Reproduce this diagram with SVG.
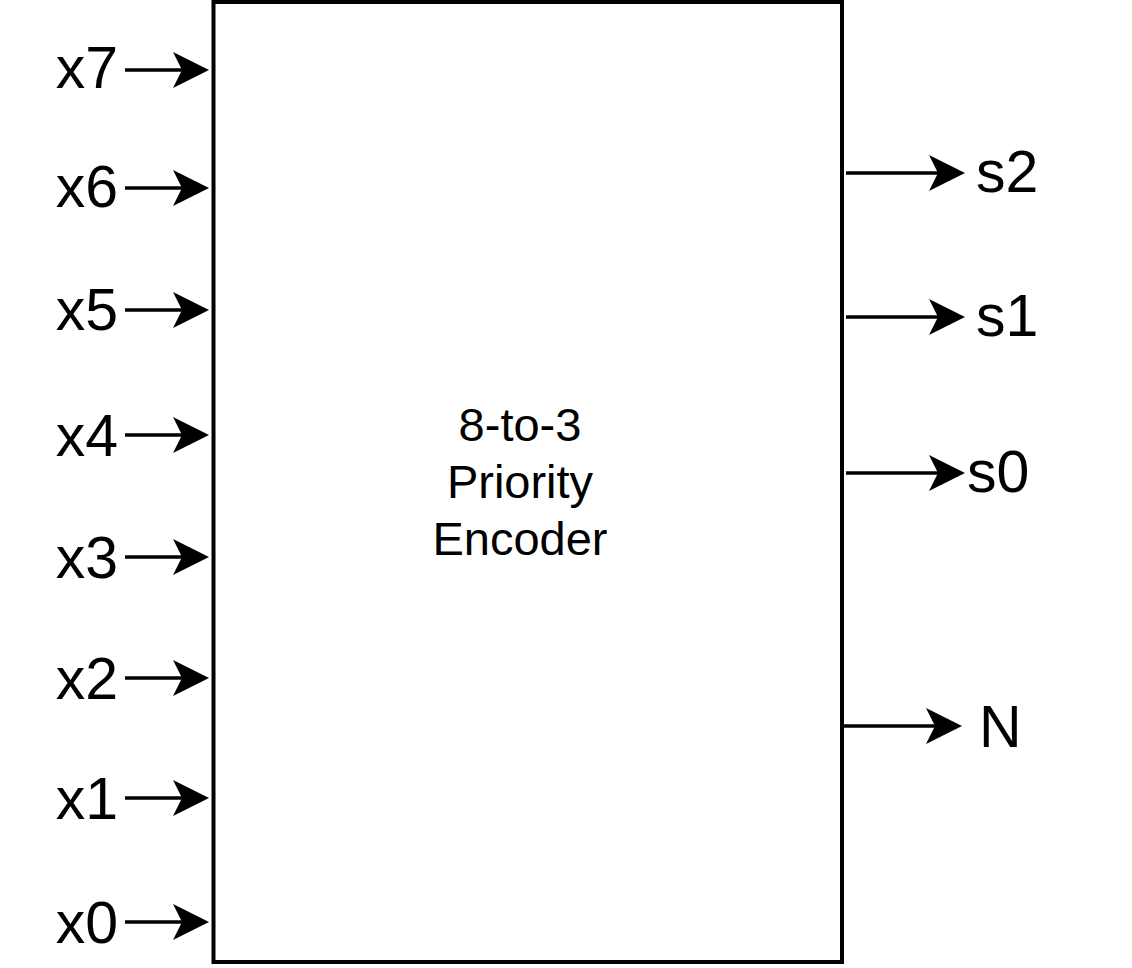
<svg xmlns="http://www.w3.org/2000/svg" width="1132" height="968" viewBox="0 0 1132 968">
<defs>
<marker id="ah" markerUnits="userSpaceOnUse" viewBox="0 0 36 36" refX="9" refY="18" markerWidth="36" markerHeight="36" orient="auto">
<path d="M0,0 L36,18 L0,36 L9,18 Z" fill="#000"/>
</marker>
<style>
.w{stroke:#000;stroke-width:3.5;fill:none;marker-end:url(#ah)}
.l{font-family:"Liberation Sans",Arial,sans-serif;font-size:59px;fill:#000}
.c{font-family:"Liberation Sans",Arial,sans-serif;font-size:47px;fill:#000;text-anchor:middle}
</style>
</defs>
<rect width="1132" height="968" fill="#fff"/>
<g id="encoder">
<rect x="213.5" y="2" width="628.5" height="960" fill="#fff" stroke="#000" stroke-width="4"/>
<text class="c" x="520" y="441">8-to-3</text>
<text class="c" x="520" y="498">Priority</text>
<text class="c" x="520" y="555">Encoder</text>
</g>
<g id="labels">
<text class="l" x="118" y="88" text-anchor="end">x7</text>
<text class="l" x="118" y="207" text-anchor="end">x6</text>
<text class="l" x="118" y="330" text-anchor="end">x5</text>
<text class="l" x="118" y="456" text-anchor="end">x4</text>
<text class="l" x="118" y="578" text-anchor="end">x3</text>
<text class="l" x="118" y="699" text-anchor="end">x2</text>
<text class="l" x="118" y="819" text-anchor="end">x1</text>
<text class="l" x="118" y="943" text-anchor="end">x0</text>
<text class="l" x="976" y="192">s2</text>
<text class="l" x="976" y="336">s1</text>
<text class="l" x="967" y="492">s0</text>
<text class="l" x="979" y="747">N</text>
</g>
<g id="connectors">
<line class="w" x1="125" y1="70" x2="182" y2="70"/>
<line class="w" x1="125" y1="188" x2="182" y2="188"/>
<line class="w" x1="125" y1="310" x2="182" y2="310"/>
<line class="w" x1="125" y1="435" x2="182" y2="435"/>
<line class="w" x1="125" y1="557" x2="182" y2="557"/>
<line class="w" x1="125" y1="678" x2="182" y2="678"/>
<line class="w" x1="125" y1="798" x2="182" y2="798"/>
<line class="w" x1="125" y1="922" x2="182" y2="922"/>
<line class="w" x1="846" y1="173" x2="938" y2="173"/>
<line class="w" x1="846" y1="317" x2="938" y2="317"/>
<line class="w" x1="846" y1="473" x2="938" y2="473"/>
<line class="w" x1="843" y1="726" x2="935" y2="726"/>
</g>
</svg>
